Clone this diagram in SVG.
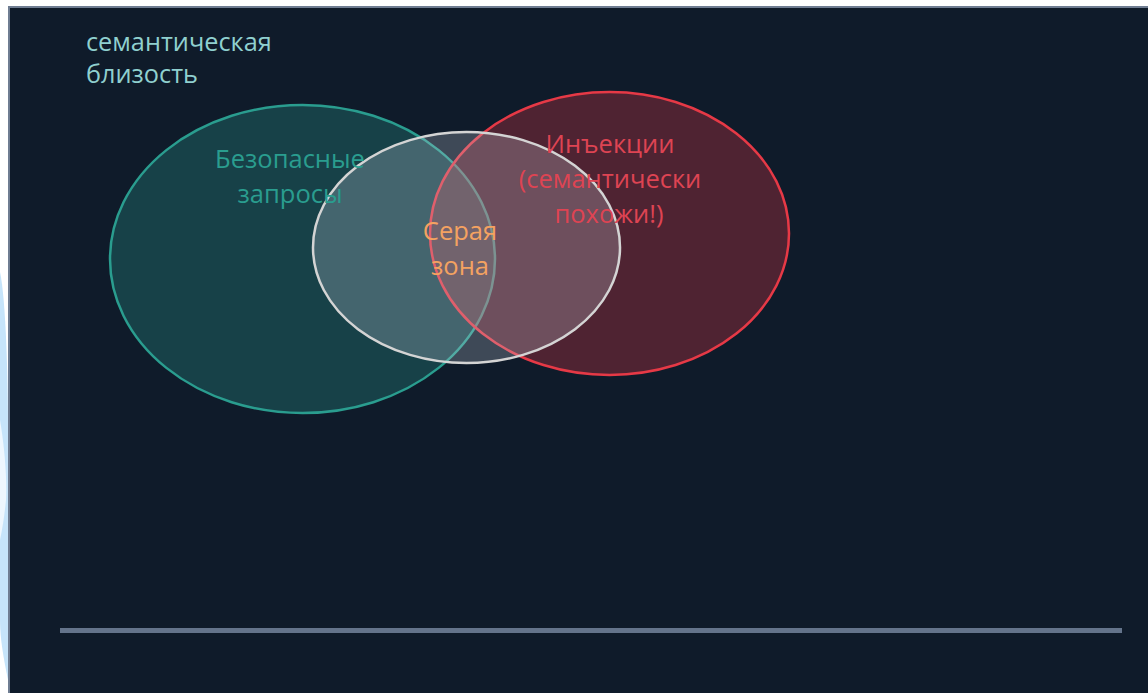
<svg xmlns="http://www.w3.org/2000/svg" width="1148" height="693" viewBox="0 0 1148 693">
  <style>
    .lbl { font-family: "Open Sans", "Noto Sans", "DejaVu Sans", sans-serif; font-size: 25.5px; text-anchor: middle; }
    .title { font-family: "Open Sans", "Noto Sans", "DejaVu Sans", sans-serif; font-size: 25.3px; fill: #8fd0cf; }
    .safe { fill: #2a9d8f; fill-opacity: 0.3; stroke: #2a9d8f; stroke-width: 2.5; }
    .inj { fill: #e63946; fill-opacity: 0.3; stroke: #e63946; stroke-width: 2.5; }
    .grey { fill: #cbd5e1; fill-opacity: 0.25; stroke: #d4d4d4; stroke-width: 2.5; }
  </style>

  <!-- page backdrop -->
  <rect x="0" y="0" width="1148" height="693" fill="#ffffff"/>
  <path d="M0 272 C6 300 8 380 8 430 L8 680 C4 660 0 640 0 620 Z" fill="#c6e4fa"/>
  <path d="M0 420 C5 450 7 480 6 500 C4 520 2 530 0 540 Z" fill="#eef7fe"/>

  <!-- slide panel -->
  <rect x="9" y="7" width="1145" height="692" fill="#0f1b2a" stroke="#6f7d92" stroke-width="2"/>

  <g id="title">
    <text class="title" x="86" y="51">семантическая</text>
    <text class="title" x="86" y="83">близость</text>
  </g>

  <g id="safe-requests">
    <ellipse class="safe" cx="302.5" cy="259" rx="192.5" ry="154"/>
  </g>
  <g id="injections">
    <ellipse class="inj" cx="609.5" cy="233.5" rx="179.5" ry="141.5"/>
  </g>
  <g id="grey-zone">
    <ellipse class="grey" cx="466.5" cy="247.5" rx="153.5" ry="115.5"/>
  </g>

  <g id="labels">
    <text class="lbl" x="290" y="168" fill="#2a9d8f">Безопасные</text>
    <text class="lbl" x="290" y="203" fill="#2a9d8f">запросы</text>
    <text class="lbl" x="610" y="153" fill="#de4453">Инъекции</text>
    <text class="lbl" x="610" y="188" fill="#de4453">(семантически</text>
    <text class="lbl" x="609" y="223" fill="#de4453">похожи!)</text>
    <text class="lbl" x="460" y="240" fill="#f4a261">Серая</text>
    <text class="lbl" x="460" y="275" fill="#f4a261">зона</text>
  </g>

  <g id="baseline">
    <rect x="60" y="628" width="1062" height="5" fill="#64748b"/>
  </g>
</svg>
